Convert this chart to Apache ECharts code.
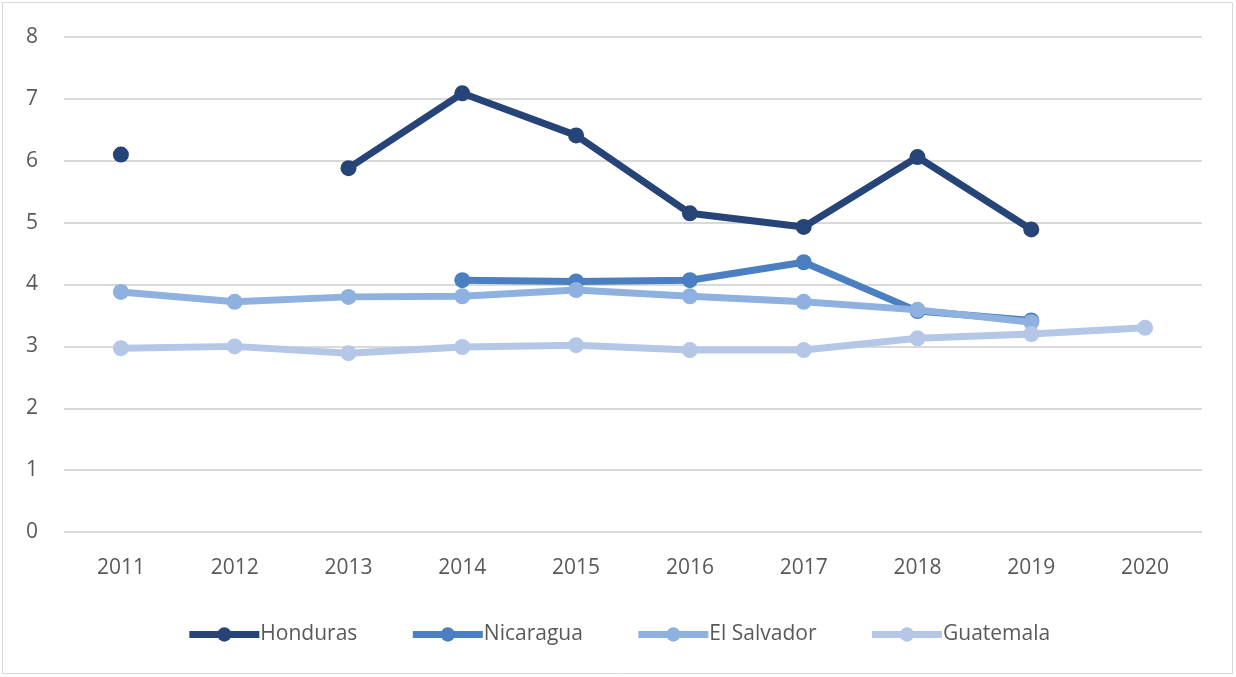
<!DOCTYPE html>
<html>
<head>
<meta charset="utf-8">
<script src="https://cdn.jsdelivr.net/npm/echarts@6/dist/echarts.min.js"></script>
<style>
  html, body { margin: 0; padding: 0; background: #fff; }
  #chart { width: 1236px; height: 677px; }
</style>
</head>
<body>
<div id="chart"></div>
<script>
const years = ['2011', '2012', '2013', '2014', '2015', '2016', '2017', '2018', '2019', '2020'];
const honduras = [6.1, null, 5.88, 7.09, 6.41, 5.15, 4.93, 6.06, 4.89, null];
const nicaragua = [null, null, null, 4.07, 4.05, 4.07, 4.36, 3.57, 3.42, null];
const elSalvador = [3.88, 3.72, 3.8, 3.81, 3.91, 3.81, 3.72, 3.59, 3.39, null];
const guatemala = [2.97, 3.0, 2.89, 2.99, 3.02, 2.94, 2.94, 3.13, 3.2, 3.3];

const names = ['Honduras', 'Nicaragua', 'El Salvador', 'Guatemala'];
const colors = ['#264478', '#4a7fc1', '#8fb1df', '#b4c7e7'];
const values = [honduras, nicaragua, elSalvador, guatemala];

const font = 'Open Sans, Noto Sans, sans-serif';
const chart = echarts.init(document.getElementById('chart'), null, { renderer: 'canvas' });

chart.setOption({
  animation: false,
  color: colors,
  graphic: [{
    type: 'rect',
    shape: { x: 2.5, y: 2.5, width: 1230, height: 671 },
    style: { fill: 'none', stroke: '#d9d9d9', lineWidth: 1 },
    silent: true
  }],
  grid: { left: 64, right: 34, top: 37, bottom: 145, containLabel: false },
  legend: {
    bottom: 27,
    left: 'center',
    itemWidth: 70,
    itemHeight: 18,
    itemGap: 52,
    lineStyle: { width: 7 },
    textStyle: { fontFamily: font, fontSize: 21, color: '#595959', padding: [0, 0, 0, -4] },
    data: names
  },
  xAxis: {
    type: 'category',
    data: years,
    boundaryGap: true,
    axisLine: { lineStyle: { color: '#d9d9d9', width: 1 } },
    axisTick: { show: false },
    axisLabel: { fontFamily: font, fontSize: 21, color: '#595959', margin: 26 }
  },
  yAxis: {
    type: 'value',
    min: 0,
    max: 8,
    interval: 1,
    axisLine: { show: false },
    axisTick: { show: false },
    splitLine: { lineStyle: { color: '#d9d9d9', width: 2 } },
    axisLabel: { fontFamily: font, fontSize: 21, color: '#595959', margin: 26 }
  },
  series: names.map((n, i) => ({
    name: n,
    type: 'line',
    data: values[i],
    connectNulls: false,
    symbol: 'circle',
    symbolSize: 16,
    showAllSymbol: true,
    lineStyle: { width: 7, color: colors[i] },
    itemStyle: { color: colors[i] },
    z: 2 + i
  }))
});
</script>
</body>
</html>
